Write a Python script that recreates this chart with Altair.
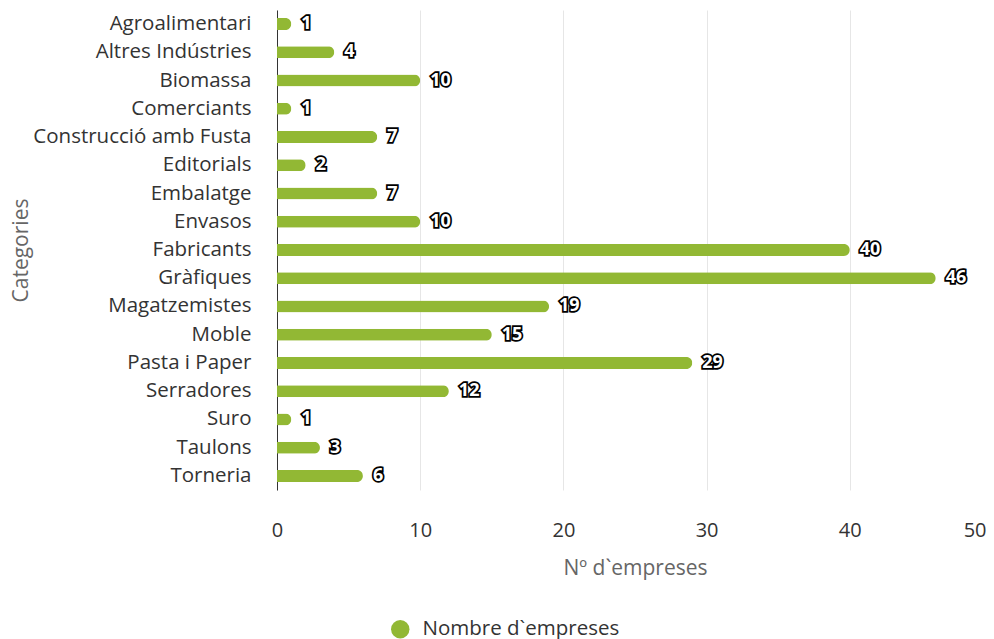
import altair as alt
import pandas as pd

categories = ["Agroalimentari", "Altres Indústries", "Biomassa", "Comerciants",
              "Construcció amb Fusta", "Editorials", "Embalatge", "Envasos",
              "Fabricants", "Gràfiques", "Magatzemistes", "Moble", "Pasta i Paper",
              "Serradores", "Suro", "Taulons", "Torneria"]
values = [1, 4, 10, 1, 7, 2, 7, 10, 40, 46, 19, 15, 29, 12, 1, 3, 6]
series_name = "Nombre d`empreses"
x_ticks = [0, 10, 20, 30, 40, 50]

df = pd.DataFrame({"cat": categories, "val": values, "series": [series_name] * len(values)})

FONT = "Open Sans"
GREEN = "#92b834"

y_enc = alt.Y("cat:N", sort=categories, title="Categories",
              axis=alt.Axis(labelFontSize=20.5, labelColor="#333333", labelFont=FONT,
                            labelPadding=26, labelLimit=400, ticks=False, domainColor="#333333",
                            titleFont=FONT, titleFontSize=21, titleColor="#666666",
                            titleFontWeight="normal", titleAngle=270,
                            titleX=-256, titleY=240, titleAlign="center",
                            titleBaseline="middle"))
x_enc = alt.X("val:Q", title="Nº d`empreses",
              scale=alt.Scale(domain=[0, 50], nice=False, range=[0, 716]),
              axis=alt.Axis(values=x_ticks, labelFontSize=20,
                            labelColor="#333333", labelFont=FONT, labelPadding=30,
                            labelFlush=False,
                            labelAlign=alt.expr("datum.value == 50 ? 'right' : 'center'"),
                            labelOffset=alt.expr("datum.value == 50 ? -7 : 0"),
                            domain=False, ticks=False, gridColor="#e6e6e6",
                            titleFont=FONT, titleFontSize=21, titleColor="#666666",
                            titleFontWeight="normal", titlePadding=17))

bars = alt.Chart(df).mark_bar(size=12, cornerRadiusEnd=6).encode(
    y=y_enc, x=x_enc,
    color=alt.Color("series:N", scale=alt.Scale(range=[GREEN]),
                    legend=alt.Legend(title=None, orient="none", legendX=113, legendY=609,
                                      symbolType="circle", symbolSize=340,
                                      labelFontSize=20.5, labelFont=FONT, labelColor="#333333",
                                      labelLimit=400, symbolStrokeWidth=0, labelOffset=12)),
)

outline = alt.Chart(df).mark_text(align="left", baseline="middle", dx=10, font=FONT,
                                  fontSize=18, fontWeight="bold", fill="#000000",
                                  stroke="#000000", strokeWidth=3.5).encode(
    y=alt.Y("cat:N", sort=categories), x="val:Q", text="val:Q")
inner = alt.Chart(df).mark_text(align="left", baseline="middle", dx=10, font=FONT,
                                fontSize=18, fontWeight="bold", fill="#ffffff").encode(
    y=alt.Y("cat:N", sort=categories), x="val:Q", text="val:Q")

chart = alt.layer(bars, outline, inner).properties(
    width=709, height=480,
    autosize=alt.AutoSizeParams(type="none"),
    padding={"left": 269, "top": 2, "right": 0, "bottom": 149},
).configure_view(stroke=None).configure_axis(labelFontWeight="normal")

chart.save("out.html", embed_options={"renderer": "svg", "actions": False})
